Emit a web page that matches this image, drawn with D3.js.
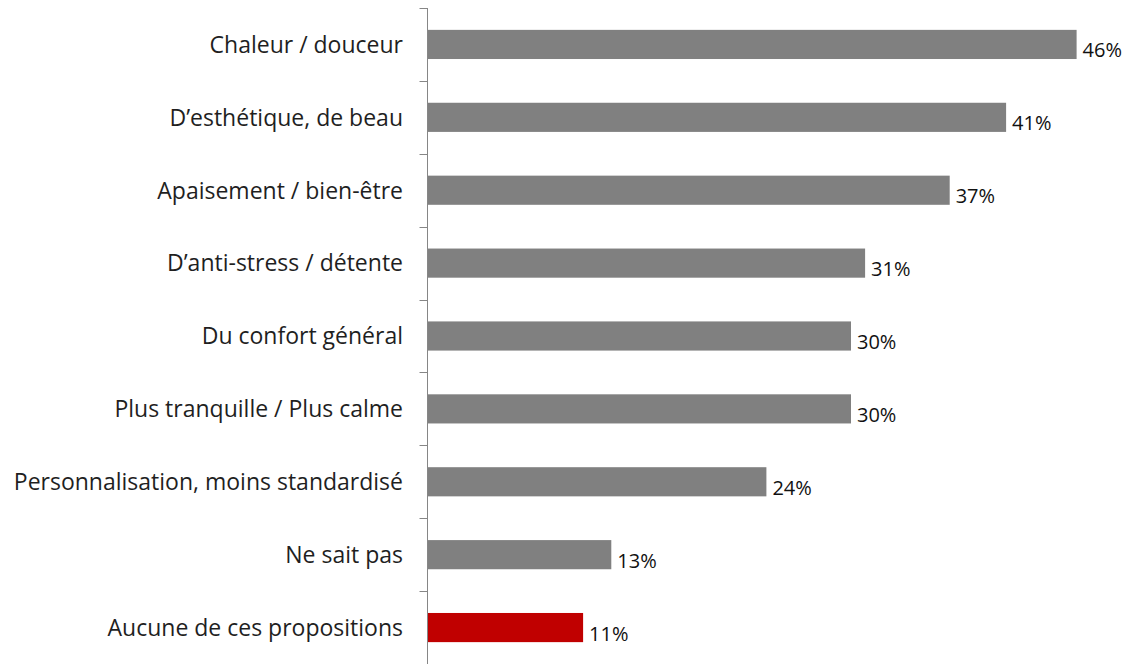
<!DOCTYPE html>
<html>
<head>
<meta charset="utf-8">
<script src="https://cdn.jsdelivr.net/npm/d3@7"></script>
<style>
  html, body { margin: 0; padding: 0; background: #fff; }
  svg { display: block; }
</style>
</head>
<body>
<svg id="chart" width="1124" height="664"></svg>
<script>
const categories = [
  "Chaleur / douceur",
  "D\u2019esthétique, de beau",
  "Apaisement / bien-être",
  "D\u2019anti-stress / détente",
  "Du confort général",
  "Plus tranquille / Plus calme",
  "Personnalisation, moins standardisé",
  "Ne sait pas",
  "Aucune de ces propositions"
];
const values = [46, 41, 37, 31, 30, 30, 24, 13, 11];
const highlighted = ["Aucune de ces propositions"];

const svg = d3.select("#chart");
const x = d3.scaleLinear().domain([0, 50]).range([428, 1133]);
const y = d3.scaleBand().domain(categories).range([8, 664])
  .paddingInner(0.6).paddingOuter(0.3);

const data = categories.map((c, i) => ({ c, v: values[i] }));

// bars
svg.append("g").selectAll("rect").data(data).join("rect")
  .attr("x", x(0))
  .attr("y", d => y(d.c))
  .attr("width", d => x(d.v) - x(0))
  .attr("height", y.bandwidth())
  .attr("fill", d => highlighted.includes(d.c) ? "#C00000" : "#808080");

// axis
const axisG = svg.append("g").attr("transform", `translate(${x(0) - 0.5},0)`);
axisG.append("line").attr("x1", 0).attr("x2", 0).attr("y1", 8).attr("y2", 664)
  .attr("stroke", "#868686").attr("stroke-width", 1);
const boundaries = d3.range(categories.length + 1).map(i => 8 + i * y.step());
axisG.selectAll("line.tick").data(boundaries).join("line").attr("class", "tick")
  .attr("x1", -8).attr("x2", 0).attr("y1", d => Math.round(d) + 0.5).attr("y2", d => Math.round(d) + 0.5)
  .attr("stroke", "#868686").attr("stroke-width", 1);

// category labels
svg.append("g").selectAll("text").data(data).join("text")
  .attr("x", 403)
  .attr("y", d => y(d.c) + y.bandwidth() / 2)
  .attr("dy", "0.36em")
  .attr("text-anchor", "end")
  .attr("font-family", "'Open Sans', sans-serif")
  .attr("font-size", 23)
  .attr("fill", "#1f1f1f")
  .text(d => d.c);

// value labels
svg.append("g").selectAll("text").data(data).join("text")
  .attr("x", d => x(d.v) + 6)
  .attr("y", d => y(d.c) + y.bandwidth() / 2 + 13)
  .attr("font-family", "'Open Sans', sans-serif")
  .attr("font-size", 20)
  .attr("fill", "#111")
  .text(d => d.v + "%");
</script>
</body>
</html>
